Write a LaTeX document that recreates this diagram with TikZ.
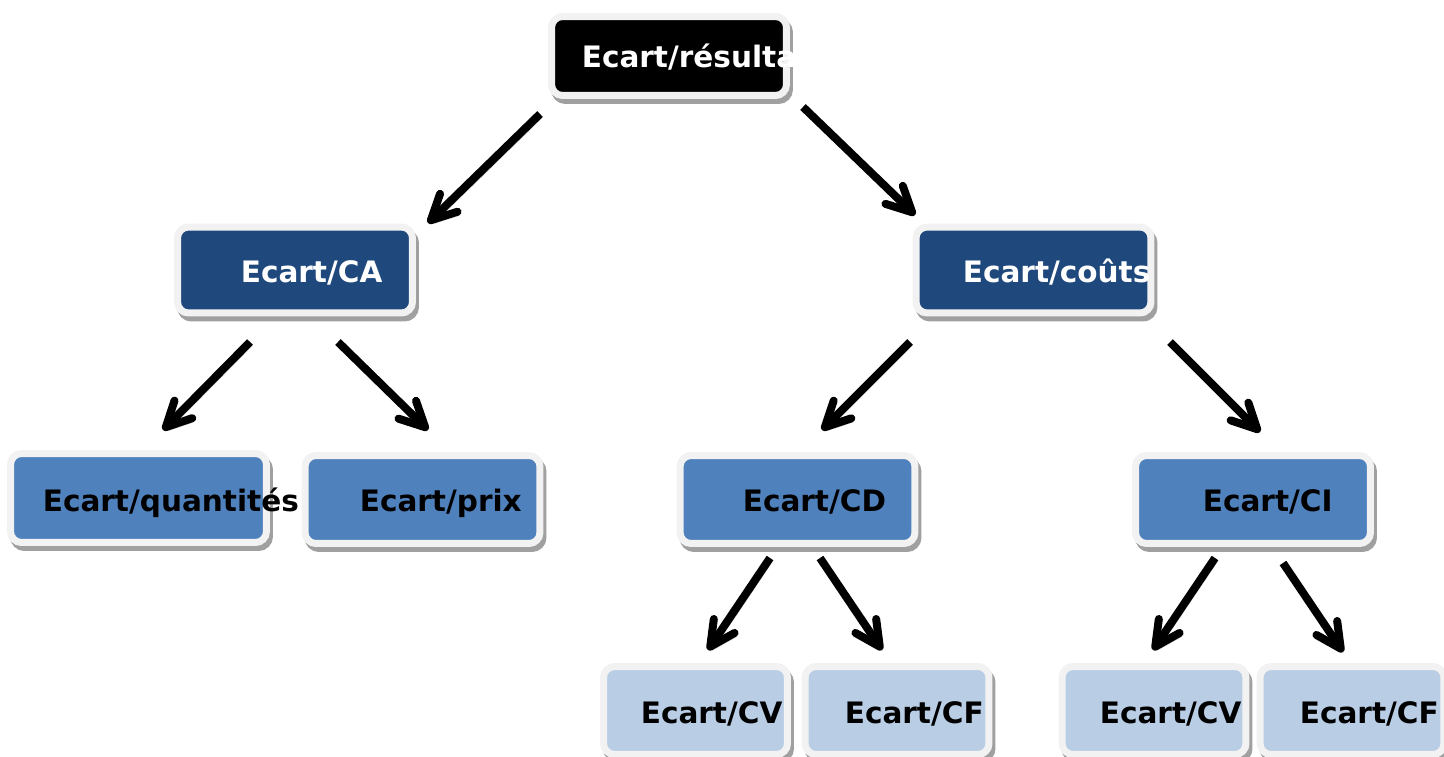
\documentclass[tikz,border=0pt]{standalone}
\usepackage{fontspec}
\setmainfont{DejaVu Sans}
\definecolor{darkblue}{RGB}{31,73,125}
\definecolor{midblue}{RGB}{79,129,189}
\definecolor{lightblue}{RGB}{185,205,229}
\definecolor{rimgray}{RGB}{242,242,242}
\definecolor{shadowgray}{RGB}{160,160,160}
\usetikzlibrary{arrows.meta, calc, shadows}

\begin{document}
\begin{tikzpicture}[x=0.02cm, y=0.02cm,
  block/.style={draw=rimgray, line width=0.14cm, rounded corners=0.22cm, minimum width=4.7cm, minimum height=1.76cm, inner sep=0pt, outer sep=0pt,
    drop shadow={shadow xshift=0.06cm, shadow yshift=-0.1cm, fill=shadowgray, draw=shadowgray, line width=0.14cm, opacity=1}},
  txt/.style={anchor=base west, inner sep=0pt, font=\fontsize{16.8}{20}\selectfont\bfseries},
  arr/.style={-{Straight Barb[length=0.5cm, width=0.5cm, round]}, line width=0.16cm,
    preaction={draw=black!15, transform canvas={shift={(0.05cm,-0.07cm)}}}}]
\useasboundingbox (0,0) rectangle (1444,-757);

% boxes
\node[block, fill=black, minimum height=1.58cm] (top) at (669,-56) {};
\node[block, fill=darkblue, minimum height=1.72cm] (ca) at (295,-270) {};
\node[block, fill=darkblue, minimum height=1.72cm] (couts) at (1033.5,-270) {};
\node[block, fill=midblue, minimum width=5.12cm, minimum height=1.78cm] (qte) at (138.5,-498) {};
\node[block, fill=midblue] (prix) at (422.5,-499.5) {};
\node[block, fill=midblue] (cd) at (797.5,-499.5) {};
\node[block, fill=midblue] (ci) at (1253,-499.5) {};
\node[block, fill=lightblue, minimum width=3.68cm] (cvd) at (695.5,-710.5) {};
\node[block, fill=lightblue, minimum width=3.68cm] (cfd) at (897,-710.5) {};
\node[block, fill=lightblue, minimum width=3.68cm] (cvi) at (1154,-710.5) {};
\node[block, fill=lightblue, minimum width=3.68cm] (cfi) at (1352,-710.5) {};

% labels
\node[txt, text=white] (topT) at (581.5,-68) {Ecart/résulta};
\node[txt, text=white] (caT) at (240.5,-282) {Ecart/CA};
\node[txt, text=white] (coutsT) at (962.5,-282) {Ecart/coûts};
\node[txt] (qteT) at (42.5,-511) {Ecart/quantités};
\node[txt] (prixT) at (359.5,-511) {Ecart/prix};
\node[txt] (cdT) at (742.5,-511) {Ecart/CD};
\node[txt] (ciT) at (1202.5,-511) {Ecart/CI};
\node[txt] (cvdT) at (640.5,-723) {Ecart/CV};
\node[txt] (cfdT) at (844.5,-723) {Ecart/CF};
\node[txt] (cviT) at (1099.5,-723) {Ecart/CV};
\node[txt] (cfiT) at (1299.5,-723) {Ecart/CF};

% arrows
\draw[arr] ($(top.south)+(-129,-18.5)$) -- ($(ca.north)+(133,4)$);
\draw[arr] ($(top.south)+(134,-11.5)$) -- ($(couts.north)+(-118.5,12)$);
\draw[arr] ($(ca.south)+(-45,-29)$) -- ($(qte.north)+(24.5,23.5)$);
\draw[arr] ($(ca.south)+(43,-29)$) -- ($(prix.north)+(5.5,25.5)$);
\draw[arr] ($(couts.south)+(-123.5,-29)$) -- ($(cd.north)+(24.5,25.5)$);
\draw[arr] ($(couts.south)+(136.5,-29)$) -- ($(ci.north)+(7,23.5)$);
\draw[arr] ($(cd.south)+(-27.5,-14.5)$) -- ($(cvd.north)+(12.5,16.5)$);
\draw[arr] ($(cd.south)+(22.5,-14.5)$) -- ($(cfd.north)+(-15,16.5)$);
\draw[arr] ($(ci.south)+(-38,-14.5)$) -- ($(cvi.north)+(-1,16.5)$);
\draw[arr] ($(ci.south)+(30,-19.5)$) -- ($(cfi.north)+(-9,14.5)$);
\end{tikzpicture}
\end{document}
